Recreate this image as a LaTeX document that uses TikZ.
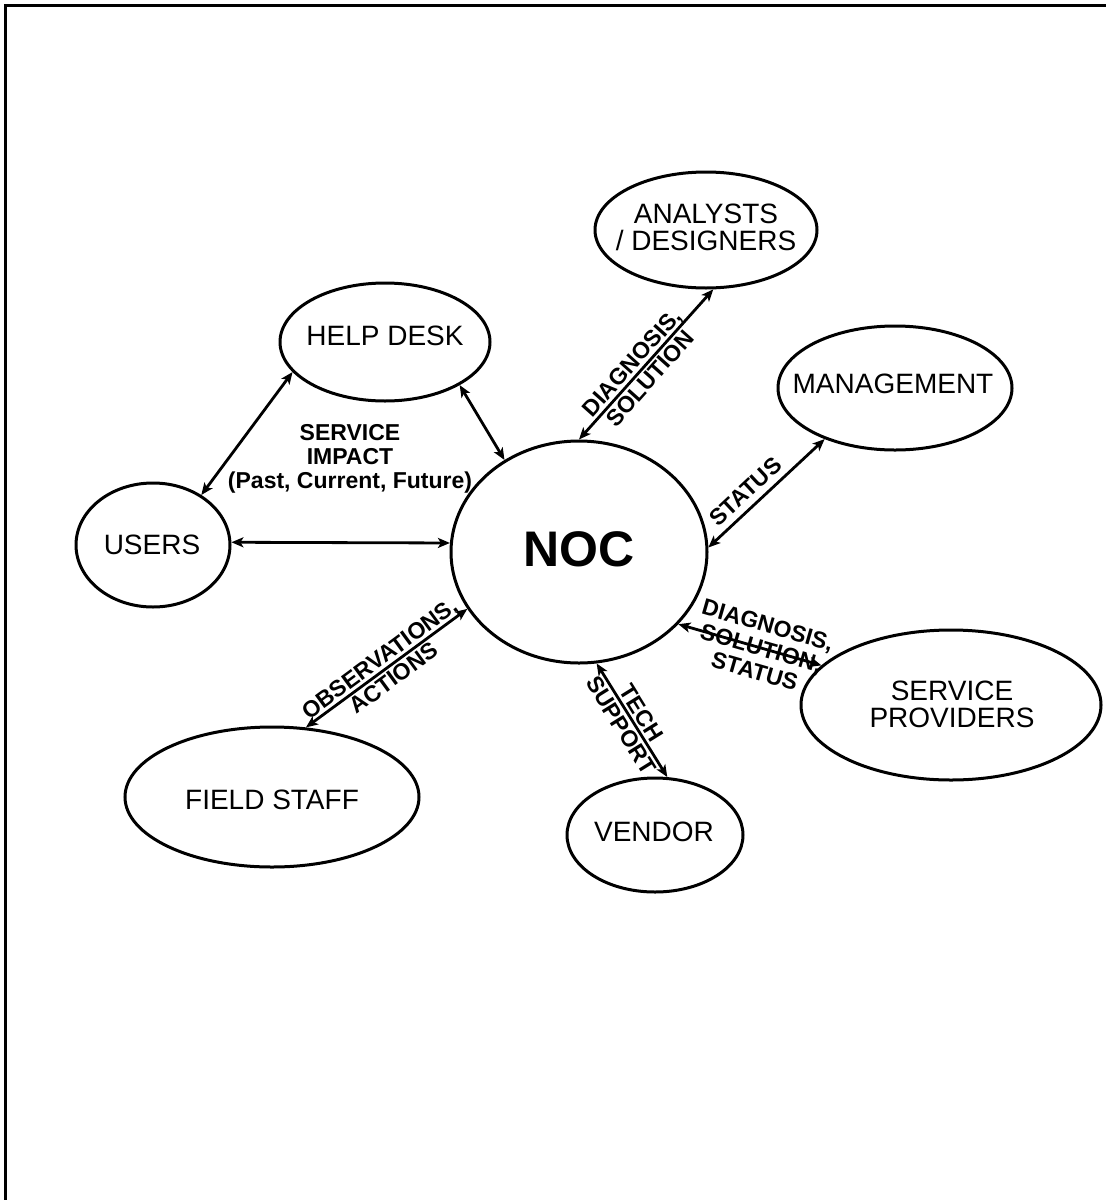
\documentclass[tikz,border=0pt]{standalone}
\usepackage{fontspec}
\setmainfont{Liberation Sans}
\usetikzlibrary{shapes.geometric,arrows.meta}

\begin{document}
\begin{tikzpicture}[x=1pt,y=1pt,
  party/.style={ellipse, draw, line width=3pt, inner sep=0pt},
  lbl/.style={font=\fontsize{28}{27}\selectfont, align=center, inner sep=0pt},
  tip/.tip={Stealth[length=12pt,width=10pt,inset=3pt]},
  link/.style={line width=2.8pt, tip-tip},
  flow/.style={font=\bfseries\fontsize{23}{24}\selectfont, align=center, inner sep=1pt},
]
\useasboundingbox (0,0) rectangle (1106,-1200);

% outer frame (open to the right and bottom)
\draw[line width=3.5pt] (5.5,-1200) -- (5.5,-5.5) -- (1106,-5.5);

% parties
\node[party, minimum width=222pt, minimum height=116pt] (analysts) at (706,-230) {};
\node[lbl] (analysts-t) at (706,-227) {ANALYSTS\\/ DESIGNERS};

\node[party, minimum width=210pt, minimum height=118pt] (help) at (385,-342) {};
\node[lbl] (help-t) at (385,-336) {HELP DESK};

\node[party, minimum width=234pt, minimum height=124pt] (mgmt) at (895,-388) {};
\node[lbl] (mgmt-t) at (893,-384) {MANAGEMENT};

\node[party, minimum width=154pt, minimum height=124pt] (users) at (153,-545) {};
\node[lbl] (users-t) at (152,-545) {USERS};

\node[party, minimum width=256pt, minimum height=222pt] (noc) at (579,-552) {};
\node[font=\bfseries\fontsize{50}{50}\selectfont, inner sep=0pt] (noc-t) at (579,-549) {NOC};

\node[party, minimum width=300pt, minimum height=150pt] (sp) at (951,-705) {};
\node[lbl] (sp-t) at (952,-704) {SERVICE\\PROVIDERS};

\node[party, minimum width=294pt, minimum height=140pt] (field) at (272,-797) {};
\node[lbl] (field-t) at (272,-800) {FIELD STAFF};

\node[party, minimum width=176pt, minimum height=114pt] (vendor) at (655,-835) {};
\node[lbl] (vendor-t) at (654,-832) {VENDOR};

% information flows
\node[flow] (impact) at (350,-459) {SERVICE\\IMPACT\\(Past, Current, Future)};

\draw[link] (users.46) -- (help.198);
\draw[link] (help.330) -- (noc.129);
\draw[link] (users.2) -- (noc.176);
\draw[link] (noc.90) -- node[flow, sloped, pos=0.46] (f-analysts) {DIAGNOSIS,\\SOLUTION} (analysts.277);
\draw[link] (noc.2) -- node[flow, sloped, above=5pt, pos=0.41] (f-mgmt) {STATUS} (mgmt.216);
\draw[link] (noc.324) -- node[flow, sloped, pos=0.58] (f-sp) {DIAGNOSIS,\\SOLUTION,\\STATUS} (sp.163);
\draw[link] (noc.279) -- node[flow, sloped, pos=0.49] (f-vendor) {TECH\\SUPPORT} (vendor.78);
\draw[link] (noc.207) -- node[flow, sloped, pos=0.5] (f-field) {OBSERVATIONS,\\ACTIONS} (field.64);
\end{tikzpicture}
\end{document}
